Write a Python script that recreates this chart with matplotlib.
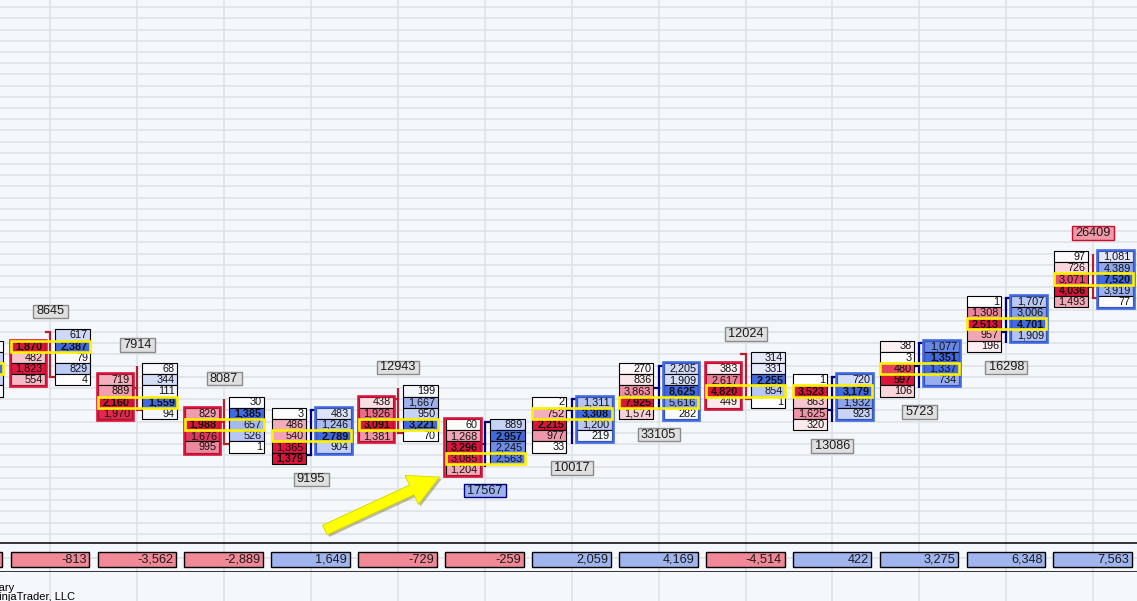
import matplotlib.pyplot as plt
import matplotlib.patheffects as pe
from matplotlib.patches import Rectangle

plt.rcParams['font.family'] = ['Liberation Sans', 'DejaVu Sans']

# footprint bars, prices in ticks (0 = lowest level on screen)
# volumes listed from the top price of each column downwards
ask_top = [12, 9, 6, 5, 7, 4, 6, 9, 10, 8, 11, 15, 19]
ask_vol = [
    [617, 2387, 79, 829, 4],
    [68, 344, 111, 1559, 94],
    [30, 1385, 657, 526, 1],
    [483, 1246, 2789, 904],
    [199, 1667, 950, 3221, 70],
    [889, 2957, 2245, 2563],
    [1311, 3308, 1200, 219],
    [2205, 1909, 8625, 5616, 282],
    [314, 331, 2255, 854, 1],
    [720, 3179, 1932, 923],
    [1077, 1351, 1337, 734],
    [1707, 3006, 4701, 1909],
    [1081, 4389, 7520, 3919, 77],
]
bid_top = [11, 8, 5, 5, 6, 4, 6, 9, 9, 8, 11, 15, 19]
bid_vol = [
    [1870, 482, 1823, 554],
    [719, 889, 2160, 1970],
    [829, 1988, 1676, 995],
    [3, 486, 540, 1365, 1379],
    [438, 1926, 3091, 1381],
    [60, 1268, 3296, 3085, 1204],
    [2, 752, 2215, 977, 33],
    [270, 836, 3863, 7925, 1574],
    [383, 2617, 4820, 449],
    [1, 3523, 863, 1625, 320],
    [38, 3, 480, 597, 106],
    [1, 1308, 2513, 957, 196],
    [97, 726, 3071, 4036, 1493],
]
opens = [12, 7, 4, 1, 6, 2, 5, 7, 10, 5, 9, 12, 16]
highs = [12, 9, 6, 5, 7, 4, 6, 9, 10, 8, 11, 15, 19]
lows = [8, 5, 2, 1, 3, 0, 2, 5, 6, 4, 7, 11, 15]
closes = [8, 5, 2, 5, 3, 4, 6, 9, 6, 8, 11, 15, 15]
totals = [8645, 7914, 8087, 9195, 12943, 17567, 10017, 33105, 12024, 13086, 5723, 16298, 26409]
total_style = ['grey'] * 5 + ['blue'] + ['grey'] * 6 + ['red']
deltas = [-813, -3562, -2889, 1649, -729, -259, 2059, 4169, -4514, 422, 3275, 6348, 7563]

# bar cut off at the left edge: only the right sliver of its ask column shows
edge_ask_top = 11
edge_ask_shade = [0.03, 0.3, 1.0, 0.3, 0.03]
edge_poc = 9

ARROW_TAIL = (4.16, -5.67)
ARROW_HEAD = (5.48, -0.94)

W, H = 1137, 601
BG = '#f4f7fb'
GRID = '#dfe2e6'
BID_BASE = (220 / 255, 20 / 255, 60 / 255)
ASK_BASE = (65 / 255, 105 / 255, 225 / 255)
UP = '#000080'
DOWN = '#b3202e'
PX = 86.9      # pixels per bar
PY = 11.2      # pixels per tick
XLIM = (0.4212, 13.505)

fig = plt.figure(figsize=(W / 100, H / 100), dpi=100, facecolor=BG)
ax = fig.add_axes([0, 58 / H, 1, 543 / H])
dax = fig.add_axes([0, 29 / H, 1, 29 / H])
bax = fig.add_axes([0, 0, 1, 29 / H])

for a in (ax, dax, bax):
    a.set_facecolor(BG)
    a.set_xticks(range(0, 15))
    a.set_xlim(XLIM)
    a.tick_params(length=0, labelbottom=False, labelleft=False)
    a.set_axisbelow(True)
    a.grid(True, axis='x', color=GRID, lw=1.2)
    for s in a.spines.values():
        s.set_visible(False)

ax.set_yticks(range(-6, 42))
ax.set_ylim(-6.83, 41.65)
ax.grid(True, axis='y', color=GRID, lw=1.2)

dax.set_yticks([0.48])
dax.set_ylim(0, 1)
dax.grid(True, axis='y', color=GRID, lw=1.2)
for s in ('top', 'bottom'):
    dax.spines[s].set_visible(True)
    dax.spines[s].set_color('black')
    dax.spines[s].set_linewidth(1.1)

BID_X = (-0.452, 0.392)
ASK_X = (0.058, 0.400)


def shade(t, base):
    return tuple(1 - (1 - c) * t for c in base)


def draw_column(c, xr, top, vols, base, border):
    x0, w = c + xr[0], xr[1]
    vmax = max(vols)
    for j, v in enumerate(vols):
        lev = top - j
        ax.add_patch(Rectangle((x0, lev - 0.76), w, 1, fc=shade(v / vmax, base),
                               ec='black', lw=0.8, zorder=3))
        ax.text(x0 + w - 0.024, lev - 0.28, f'{v:,}', ha='right', va='center',
                fontsize=7.8, color='#111111',
                fontweight='bold' if v == vmax else 'normal', zorder=4)
    if border:
        ax.add_patch(Rectangle((x0 - 0.012, top - len(vols) + 0.24 - 0.09), w + 0.024,
                               len(vols) + 0.18, fc='none', ec=border, lw=1.9, zorder=5))


for i in range(len(totals)):
    c = i + 1
    neg = deltas[i] < 0
    draw_column(c, BID_X, bid_top[i], bid_vol[i], BID_BASE, '#dc143c' if neg else None)
    draw_column(c, ASK_X, ask_top[i], ask_vol[i], ASK_BASE, None if neg else '#4169e1')

    # point of control row
    rows = {}
    for j, v in enumerate(bid_vol[i]):
        rows[bid_top[i] - j] = rows.get(bid_top[i] - j, 0) + v
    for j, v in enumerate(ask_vol[i]):
        rows[ask_top[i] - j] = rows.get(ask_top[i] - j, 0) + v
    poc = max(rows, key=rows.get)
    x0 = c + BID_X[0]
    ax.add_patch(Rectangle((x0, poc - 0.76), c + ASK_X[0] + ASK_X[1] - x0, 1,
                           fc='none', ec='#fff200', lw=1.9, zorder=6))

    # ohlc line between the columns
    up = closes[i] > opens[i]
    col = UP if up else DOWN
    ax.plot([c, c], [lows[i], highs[i]], color=col, lw=1.6, zorder=2, solid_capstyle='butt')
    ax.plot([c - 0.055, c], [opens[i], opens[i]], color=col, lw=1.6, zorder=2)
    ax.plot([c, c + 0.055], [closes[i], closes[i]], color=col, lw=1.6, zorder=2)

    # bar volume label
    txt = str(totals[i])
    ly = lows[i] - 2.15 if up else highs[i] + 1.85
    bw = (7 * len(txt) + 7) / PX
    bh = 13.5 / PY
    fc, ec = {'grey': ('#e0e0e0', '#8a8a8a'),
              'blue': ('#9fb2f0', '#000080'),
              'red': ('#ef9aa6', '#c8102e')}[total_style[i]]
    ax.add_patch(Rectangle((c - bw / 2, ly - bh / 2), bw, bh, fc=fc, ec=ec, lw=1.0, zorder=5))
    ax.text(c, ly, txt, ha='center', va='center', fontsize=9.2, color='#1a1a1a', zorder=6)

    # delta box
    dax.add_patch(Rectangle((c - 0.456, 0.17), 0.905, 0.52,
                            fc='#f08898' if neg else '#a0b4ee', ec='black', lw=1.0, zorder=3))
    dax.text(c + 0.449 - 0.032, 0.43, f'{deltas[i]:,}', ha='right', va='center',
             fontsize=9.2, color='#1a1a1a', zorder=4)

# cut-off bar on the left
for j, t in enumerate(edge_ask_shade):
    lev = edge_ask_top - j
    ax.add_patch(Rectangle((ASK_X[0], lev - 0.76), ASK_X[1], 1, fc=shade(t, ASK_BASE),
                           ec='black', lw=0.8, zorder=3))
ax.add_patch(Rectangle((BID_X[0], edge_poc - 0.76), ASK_X[0] + ASK_X[1] - BID_X[0], 1,
                       fc='none', ec='#fff200', lw=1.9, zorder=6))
dax.add_patch(Rectangle((-0.456, 0.17), 0.905, 0.52, fc='#f08898', ec='black', lw=1.0, zorder=3))

# yellow arrow
ax.annotate('', xy=ARROW_HEAD, xytext=ARROW_TAIL, zorder=8,
            arrowprops=dict(arrowstyle='simple,head_length=1.3,head_width=1.35,tail_width=0.45',
                            fc='#ffff00', ec='#d4d400', lw=0.6, mutation_scale=17,
                            shrinkA=0, shrinkB=0,
                            path_effects=[pe.SimplePatchShadow(offset=(1.5, -1.5), alpha=0.35),
                                          pe.Normal()]))

fig.text(14 / W, 1 - 588 / H, 'Bar Summary', ha='right', va='center', fontsize=8)
fig.text(75 / W, 1 - 597 / H, '© 2014 NinjaTrader, LLC', ha='right', va='center', fontsize=8)

fig.savefig('out.png', dpi=100, facecolor=BG)
